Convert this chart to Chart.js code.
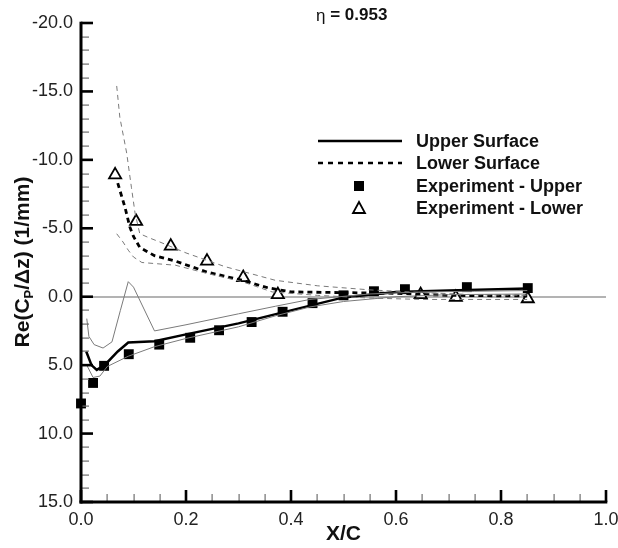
<!DOCTYPE html>
<html lang="en">
<head>
<meta charset="UTF-8">
<title>Re(Cp/dz) - eta 0.953</title>
<script src="https://cdn.jsdelivr.net/npm/chart.js"></script>
<style>
  html, body { margin: 0; padding: 0; background: #fff; }
  #wrap { width: 618px; height: 548px; }
</style>
</head>
<body>
<div id="wrap"><canvas id="cp"></canvas></div>
<script>
// values (x = X/C, y = Re(Cp/dz) in 1/mm)
const upperX = [0.01, 0.02, 0.03, 0.045, 0.07, 0.09, 0.14, 0.2, 0.3, 0.4, 0.5, 0.6, 0.7, 0.85];
const upperY = [4.0, 5.0, 5.35, 5.0, 4.0, 3.35, 3.25, 2.75, 1.95, 1.0, 0.05, -0.35, -0.45, -0.6];

const lowerX = [0.07, 0.084, 0.093, 0.1, 0.112, 0.14, 0.18, 0.24, 0.307, 0.356, 0.4, 0.5, 0.6, 0.7, 0.85];
const lowerY = [-8.3, -6.5, -5.1, -4.4, -3.6, -3.0, -2.6, -1.8, -1.2, -0.65, -0.35, -0.3, -0.25, -0.1, -0.05];

const expUpperX = [0.0, 0.023, 0.044, 0.091, 0.149, 0.208, 0.263, 0.325, 0.384, 0.441, 0.5, 0.558, 0.617, 0.735, 0.851];
const expUpperY = [7.8, 6.3, 5.05, 4.2, 3.5, 3.0, 2.45, 1.85, 1.1, 0.47, -0.1, -0.4, -0.55, -0.7, -0.63];

const expLowerX = [0.065, 0.105, 0.171, 0.24, 0.309, 0.375, 0.647, 0.714, 0.851];
const expLowerY = [-8.9, -5.5, -3.7, -2.6, -1.4, -0.15, -0.15, 0.05, 0.15];

// thin grey curves (no legend entry)
const bandHiX = [0.068, 0.074, 0.087, 0.096, 0.103, 0.112, 0.13, 0.15, 0.2, 0.274, 0.37, 0.45, 0.55, 0.65, 0.75, 0.85];
const bandHiY = [-15.4, -13.1, -10.5, -8.0, -6.1, -4.6, -4.3, -4.0, -3.2, -2.2, -1.2, -0.8, -0.5, -0.3, -0.15, -0.1];

const bandLoX = [0.068, 0.08, 0.09, 0.1, 0.116, 0.18, 0.24, 0.307, 0.364, 0.45, 0.55, 0.65, 0.75, 0.85];
const bandLoY = [-4.6, -4.0, -3.4, -2.9, -2.5, -2.3, -1.7, -1.1, -0.35, -0.1, 0.1, 0.2, 0.2, 0.2];

const thinUpX = [0.011, 0.015, 0.025, 0.042, 0.059, 0.075, 0.09, 0.1, 0.14, 0.2, 0.3, 0.37, 0.436, 0.55, 0.65, 0.75, 0.85];
const thinUpY = [1.6, 2.9, 3.5, 3.75, 3.3, 1.0, -1.1, -0.7, 2.5, 2.05, 1.25, 0.7, 0.2, -0.2, -0.35, -0.4, -0.45];

const thinLoX = [0.011, 0.023, 0.036, 0.05, 0.09, 0.14, 0.2, 0.3, 0.37, 0.436, 0.5, 0.6, 0.7, 0.85];
const thinLoY = [5.0, 5.9, 5.8, 5.1, 4.35, 3.65, 3.05, 2.2, 1.4, 0.75, 0.35, 0.0, -0.15, -0.2];

const xTicks = [0, 0.2, 0.4, 0.6, 0.8, 1.0];
const yTicks = [-20, -15, -10, -5, 0, 5, 10, 15];

const pts = (xs, ys) => xs.map((x, i) => ({ x: x, y: ys[i] }));

const FONT = "'Liberation Sans', Arial, Helvetica, sans-serif";
const GREY = '#7a7a7a';

// axis lines, inward ticks, zero line, titles and legend
const decor = {
  id: 'decor',
  beforeDatasetsDraw(chart) {
    const { ctx, chartArea: a, scales: { y } } = chart;
    const y0 = Math.round(y.getPixelForValue(0));
    ctx.save();
    ctx.fillStyle = '#9a9a9a';
    ctx.fillRect(a.left, y0 - 0.75, a.right - a.left, 1.5);
    ctx.restore();
  },
  afterDraw(chart) {
    const { ctx, chartArea: a, scales } = chart;
    const xs = scales.x, ys = scales.y;
    ctx.save();
    ctx.setLineDash([]);

    // minor ticks
    ctx.fillStyle = '#6f6f6f';
    for (let v = -20; v <= 15; v++) {
      if (v % 5 === 0) continue;
      const p = Math.round(ys.getPixelForValue(v));
      ctx.fillRect(a.left, p - 0.5, 8, 1.2);
    }
    for (let i = 0; i <= 20; i++) {
      if (i % 4 === 0) continue;
      const p = Math.round(xs.getPixelForValue(i * 0.05));
      ctx.fillRect(p - 0.5, a.bottom - 8, 1.2, 8);
    }

    // major ticks
    ctx.fillStyle = '#000';
    yTicks.forEach(v => {
      const p = ys.getPixelForValue(v);
      ctx.fillRect(a.left, p - 1.3, 12, 2.6);
    });
    xTicks.forEach(v => {
      const p = xs.getPixelForValue(v);
      ctx.fillRect(p - 1.3, a.bottom - 12, 2.6, 12);
    });

    // axis lines (left and bottom only)
    ctx.fillRect(a.left - 1.5, a.top - 1.3, 3, a.bottom - a.top + 2.8);
    ctx.fillRect(a.left - 1.5, a.bottom - 1.5, a.right - a.left + 2.8, 3);

    // title: eta = 0.953
    ctx.fillStyle = '#111';
    ctx.textBaseline = 'middle';
    ctx.textAlign = 'left';
    ctx.font = '17px ' + FONT;
    const eta = 'η';
    let tx = 316;
    ctx.fillText(eta, tx, 16);
    tx += ctx.measureText(eta).width;
    ctx.font = 'bold 17px ' + FONT;
    ctx.fillText(' = 0.953', tx, 15);

    // x axis title
    ctx.font = 'bold 21px ' + FONT;
    ctx.textAlign = 'center';
    ctx.fillText('X/C', (a.left + a.right) / 2, 534);

    // y axis title with subscript P
    ctx.save();
    ctx.translate(23, 262);
    ctx.rotate(-Math.PI / 2);
    const parts = [['Re(C', 21, 0], ['P', 13, 6], ['/Δz) (1/mm)', 21, 0]];
    let total = 0;
    parts.forEach(p => { ctx.font = 'bold ' + p[1] + 'px ' + FONT; total += ctx.measureText(p[0]).width; });
    let px = -total / 2;
    ctx.textAlign = 'left';
    parts.forEach(p => {
      ctx.font = 'bold ' + p[1] + 'px ' + FONT;
      ctx.fillText(p[0], px, p[2]);
      px += ctx.measureText(p[0]).width;
    });
    ctx.restore();

    // legend
    const lx0 = 318, lx1 = 402, tx0 = 416, mx = 359;
    const rows = [141, 163, 186, 208];
    ctx.font = 'bold 18px ' + FONT;
    ctx.textAlign = 'left';
    ctx.textBaseline = 'middle';
    const names = ['Upper Surface', 'Lower Surface', 'Experiment - Upper', 'Experiment - Lower'];

    ctx.strokeStyle = '#000';
    ctx.lineWidth = 2.5;
    ctx.beginPath(); ctx.moveTo(lx0, rows[0]); ctx.lineTo(lx1, rows[0]); ctx.stroke();
    ctx.setLineDash([5, 5]);
    ctx.beginPath(); ctx.moveTo(lx0, rows[1]); ctx.lineTo(lx1, rows[1]); ctx.stroke();
    ctx.setLineDash([]);

    ctx.fillStyle = '#000';
    ctx.fillRect(mx - 5, rows[2] - 5, 10, 10);
    ctx.lineWidth = 1.8;
    ctx.fillStyle = '#fff';
    ctx.beginPath();
    ctx.moveTo(mx, rows[3] - 6);
    ctx.lineTo(mx + 6, rows[3] + 5);
    ctx.lineTo(mx - 6, rows[3] + 5);
    ctx.closePath();
    ctx.fill(); ctx.stroke();

    ctx.fillStyle = '#111';
    names.forEach((n, i) => ctx.fillText(n, tx0, rows[i] + 1));

    ctx.restore();
  }
};

new Chart(document.getElementById('cp').getContext('2d'), {
  type: 'scatter',
  data: {
    datasets: [
      { label: 'bandHi', data: pts(bandHiX, bandHiY), showLine: true, borderColor: GREY, borderWidth: 1, borderDash: [5, 4], pointRadius: 0, tension: 0 },
      { label: 'bandLo', data: pts(bandLoX, bandLoY), showLine: true, borderColor: GREY, borderWidth: 1, borderDash: [5, 4], pointRadius: 0, tension: 0 },
      { label: 'thinUp', data: pts(thinUpX, thinUpY), showLine: true, borderColor: GREY, borderWidth: 1, pointRadius: 0, tension: 0 },
      { label: 'thinLo', data: pts(thinLoX, thinLoY), showLine: true, borderColor: GREY, borderWidth: 1, pointRadius: 0, tension: 0 },
      { label: 'Upper Surface', data: pts(upperX, upperY), showLine: true, borderColor: '#000', borderWidth: 2.5, pointRadius: 0, tension: 0 },
      { label: 'Lower Surface', data: pts(lowerX, lowerY), showLine: true, borderColor: '#000', borderWidth: 2.8, borderDash: [5, 4], pointRadius: 0, tension: 0 },
      { label: 'Experiment - Upper', data: pts(expUpperX, expUpperY), showLine: false, pointStyle: 'rect', pointRadius: 7, backgroundColor: '#000', borderColor: '#000', borderWidth: 0, clip: false },
      { label: 'Experiment - Lower', data: pts(expLowerX, expLowerY), showLine: false, pointStyle: 'triangle', pointRadius: 7, backgroundColor: '#fff', borderColor: '#000', borderWidth: 1.8, clip: false }
    ]
  },
  options: {
    responsive: true,
    maintainAspectRatio: false,
    animation: false,
    layout: { padding: { left: 0, right: 12, top: 23, bottom: 0 } },
    plugins: {
      legend: { display: false },
      tooltip: { enabled: false }
    },
    scales: {
      x: {
        type: 'linear',
        min: 0, max: 1,
        afterBuildTicks: s => { s.ticks = xTicks.map(v => ({ value: v })); },
        afterFit: s => { s.height = 46; s.paddingLeft = 0; s.paddingRight = 0; },
        grid: { display: false, drawTicks: false },
        border: { display: false },
        ticks: { color: '#222', padding: 7, maxRotation: 0, autoSkip: false, font: { family: FONT, size: 18 }, callback: v => v.toFixed(1) }
      },
      y: {
        type: 'linear',
        min: -20, max: 15,
        reverse: true,
        afterBuildTicks: s => { s.ticks = yTicks.map(v => ({ value: v })); },
        afterFit: s => { s.width = 81; s.paddingTop = 0; s.paddingBottom = 0; },
        grid: { display: false, drawTicks: false },
        border: { display: false },
        ticks: { color: '#222', padding: 8, autoSkip: false, font: { family: FONT, size: 18 }, callback: v => v.toFixed(1) }
      }
    }
  },
  plugins: [decor]
});
</script>
</body>
</html>
